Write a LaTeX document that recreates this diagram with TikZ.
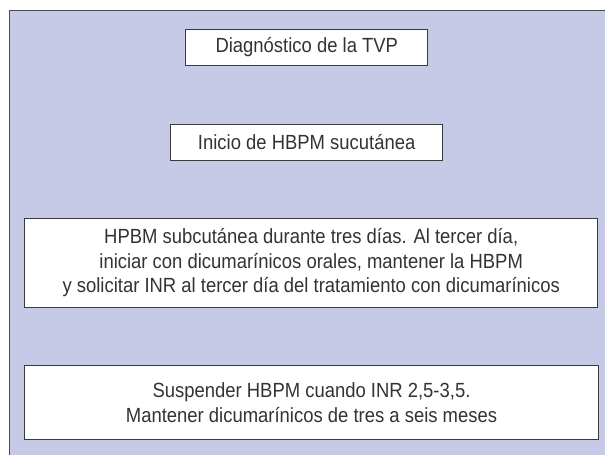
\documentclass[tikz,border=0pt]{standalone}
\usepackage{fontspec}
\setmainfont[FakeStretch=0.9]{Liberation Sans}
\definecolor{panellilac}{HTML}{C7CAE6}
\definecolor{paneledge}{HTML}{4A4A52}
\definecolor{boxedge}{HTML}{3A3A3E}
\definecolor{boxtext}{HTML}{333333}
\tikzset{
    stepbox/.style={
        draw=boxedge,
        fill=white,
        line width=0.9pt,
        inner sep=0pt,
        align=center,
        text=boxtext,
        font=\fontsize{20.5}{24.5}\selectfont
    }
}
\begin{document}
\begin{tikzpicture}[x=1pt,y=-1pt]
        \useasboundingbox (0,0) rectangle (605,455);
        \fill[panellilac] (9.3,10.7) rectangle (605,455);
        \draw[paneledge,line width=1.3pt] (9.3,455) -- (9.3,10.7) -- (605,10.7);

        \node[stepbox,minimum width=242pt,minimum height=36.5pt] (diagnosis) at (306.8,47.4)
            {Diagnóstico de la TVP};
        \node[stepbox,minimum width=272pt,minimum height=36pt] (startHbpm) at (306.7,142)
            {Inicio de HBPM sucutánea};
        \node[stepbox,minimum width=573pt,minimum height=89.4pt] (threeDays) at (311.2,263)
            {HPBM subcutánea durante tres días. Al tercer día,\\
             iniciar con dicumarínicos orales, mantener la HBPM\\
             y solicitar INR al tercer día del tratamiento con dicumarínicos};
        \node[stepbox,minimum width=573.6pt,minimum height=74pt] (suspend) at (311.5,402.8)
            {Suspender HBPM cuando INR 2,5-3,5.\\
             Mantener dicumarínicos de tres a seis meses};
    \end{tikzpicture}
\end{document}
